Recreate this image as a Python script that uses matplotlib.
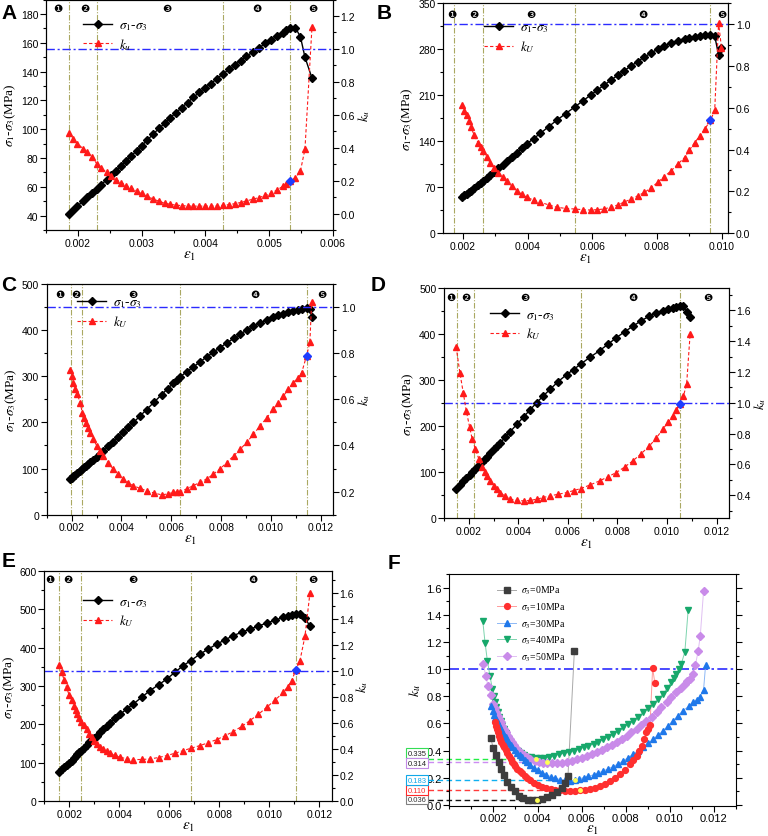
import matplotlib
matplotlib.use("Agg")
import matplotlib.pyplot as plt
import matplotlib.transforms as mtransforms
from matplotlib.ticker import MultipleLocator, FormatStrFormatter, FixedLocator

plt.rcParams['font.family'] = ['Liberation Sans', 'DejaVu Sans']
plt.rcParams['mathtext.fontset'] = 'stix'
plt.rcParams['font.size'] = 8

# ---------------- data: panel A (sigma3 = 0 MPa) ----------------
eps_a = [0.00186, 0.00193, 0.00199, 0.00208, 0.00215, 0.00222, 0.0023, 0.00237, 0.00245, 0.00252,
         0.0026, 0.00268, 0.00276, 0.00284, 0.00292, 0.003, 0.00309, 0.00318, 0.00327, 0.00336,
         0.00345, 0.00354, 0.00363, 0.00372, 0.00381, 0.0039, 0.00399, 0.00408, 0.00418, 0.00428,
         0.00437, 0.00446, 0.00455, 0.00464, 0.00474, 0.00484, 0.00494, 0.00503, 0.00512, 0.00521,
         0.00527, 0.00533, 0.00541, 0.00549, 0.00556, 0.00567]
dev_a = [41, 44, 46.5, 50, 53, 55.5, 58.5, 61.5, 65, 68,
         71, 74.5, 78, 81.5, 85, 88.5, 92.5, 96.5, 100.5, 104,
         108, 111.5, 115, 118.5, 122, 125.5, 128.5, 131.5, 135, 138.5,
         141.5, 144.5, 147.5, 150.5, 153.5, 156.5, 159.5, 162, 164.5, 167,
         169, 170.5, 170.5, 164, 150, 135.5]
ku_a = [0.49, 0.45, 0.425, 0.395, 0.372, 0.345, 0.3, 0.275, 0.25, 0.228,
        0.205, 0.188, 0.17, 0.155, 0.138, 0.122, 0.105, 0.088, 0.075, 0.063,
        0.056, 0.051, 0.048, 0.046, 0.045, 0.045, 0.045, 0.046, 0.047, 0.05,
        0.054, 0.06, 0.067, 0.076, 0.087, 0.097, 0.11, 0.124, 0.142, 0.165,
        0.18, 0.197, 0.217, 0.26, 0.39, 1.13]
stages_a = [0.00186, 0.0023, 0.00428, 0.00533]

# ---------------- panel B (10 MPa) ----------------
eps_b = [0.00198, 0.00205, 0.00212, 0.00218, 0.00224, 0.00236, 0.00248, 0.00256, 0.00264, 0.00274,
         0.00284, 0.00297, 0.0031, 0.00323, 0.00336, 0.00351, 0.00367, 0.00382, 0.00398, 0.00419,
         0.0044, 0.00465, 0.00491, 0.00518, 0.00546, 0.0057, 0.00595, 0.00615, 0.00636, 0.00657,
         0.00678, 0.00698, 0.00719, 0.0074, 0.00761, 0.00782, 0.00802, 0.00822, 0.00843, 0.00864,
         0.00885, 0.009, 0.00916, 0.00932, 0.00947, 0.00965, 0.00978, 0.0099, 0.00999]
dev_b = [55, 57.5, 60, 62.5, 65, 69, 73, 76.5, 80, 84,
         88, 93.5, 99, 104.5, 110, 116, 122, 129, 136, 144,
         152, 162, 172, 182, 192, 201, 210, 217.5, 225, 232.5,
         240, 247, 254, 261, 268, 274, 280, 284.5, 289, 292.5,
         296, 297.5, 299, 300, 301, 301, 300, 271, 282]
ku_b = [0.611, 0.585, 0.563, 0.535, 0.508, 0.468, 0.43, 0.412, 0.394, 0.366,
        0.338, 0.313, 0.29, 0.27, 0.25, 0.226, 0.203, 0.187, 0.171, 0.159,
        0.148, 0.136, 0.124, 0.119, 0.116, 0.113, 0.111, 0.113, 0.116, 0.125,
        0.135, 0.149, 0.163, 0.179, 0.195, 0.218, 0.243, 0.27, 0.298, 0.33,
        0.362, 0.397, 0.433, 0.465, 0.497, 0.54, 0.587, 1.005, 0.886]
stages_b = [0.00173, 0.00263, 0.00548, 0.00965]

# ---------------- panel C (30 MPa) ----------------
eps_c = [0.00194, 0.00201, 0.00207, 0.00215, 0.00223, 0.00234, 0.00243, 0.00251, 0.00258, 0.00266,
         0.00274, 0.00287, 0.00301, 0.00314, 0.00327, 0.00347, 0.00367, 0.00387, 0.00408, 0.00428,
         0.00448, 0.00474, 0.00501, 0.00531, 0.00561, 0.00585, 0.00608, 0.00622, 0.00636, 0.00662,
         0.00688, 0.00715, 0.00742, 0.00768, 0.00795, 0.00822, 0.0085, 0.00876, 0.00902, 0.00929,
         0.00956, 0.00983, 0.01009, 0.01029, 0.01049, 0.0107, 0.0109, 0.01107, 0.01123, 0.01143,
         0.01156, 0.01163]
dev_c = [77, 80, 83, 86.5, 90, 95, 99, 103, 106, 110,
         113.5, 119.5, 125.5, 131.5, 138, 148, 157.5, 167.5, 178.5, 189,
         200, 213.5, 228, 244, 260, 273, 285, 292, 299, 310,
         320, 331, 342, 352, 362, 372, 382, 391, 400, 408,
         415, 422, 428, 432, 436, 439.5, 442.5, 444.5, 446, 447,
         446, 429]
ku_c = [0.729, 0.70, 0.672, 0.645, 0.622, 0.586, 0.542, 0.52, 0.499, 0.477,
        0.456, 0.426, 0.399, 0.375, 0.353, 0.324, 0.298, 0.275, 0.255, 0.239,
        0.226, 0.214, 0.204, 0.194, 0.186, 0.19, 0.197, 0.198, 0.2, 0.212,
        0.226, 0.24, 0.255, 0.275, 0.298, 0.325, 0.355, 0.383, 0.413, 0.448,
        0.485, 0.52, 0.557, 0.585, 0.614, 0.643, 0.672, 0.693, 0.715, 0.79,
        0.847, 1.024]
stages_c = [0.00196, 0.00243, 0.00636, 0.01143]

# ---------------- panel D (40 MPa) ----------------
eps_d = [0.00149, 0.00164, 0.00178, 0.0019, 0.00203, 0.00214, 0.00227, 0.0024, 0.00254, 0.00264,
         0.00274, 0.00287, 0.00301, 0.00314, 0.00327, 0.00347, 0.00367, 0.00394, 0.00421, 0.00448,
         0.00474, 0.00501, 0.00528, 0.00561, 0.00595, 0.00623, 0.00652, 0.0069, 0.00728, 0.00762,
         0.00795, 0.00829, 0.00862, 0.00896, 0.00929, 0.00956, 0.00983, 0.01003, 0.01023, 0.01038,
         0.01053, 0.01066, 0.01079, 0.01093]
dev_d = [64, 72.5, 80, 87, 94, 100, 107.5, 115, 122.5, 128,
         134, 142, 150, 157.5, 164, 176, 188, 204, 220, 236,
         251, 266, 280, 297, 312, 323, 335, 350, 364, 378,
         392, 405, 417, 429, 439, 446, 451, 454, 456.5, 458,
         460, 461, 448, 436]
ku_d = [1.362, 1.196, 1.062, 0.947, 0.845, 0.763, 0.698, 0.638, 0.58, 0.552,
        0.525, 0.49, 0.46, 0.437, 0.417, 0.393, 0.374, 0.366, 0.363, 0.366,
        0.374, 0.385, 0.396, 0.406, 0.417, 0.43, 0.443, 0.467, 0.493, 0.52,
        0.547, 0.583, 0.623, 0.67, 0.72, 0.77, 0.828, 0.872, 0.915, 0.955,
        0.995, 1.044, 1.12, 1.444]
stages_d = [0.00153, 0.0022, 0.00652, 0.01053]

# ---------------- panel E (50 MPa) ----------------
eps_e = [0.0016, 0.0017, 0.00179, 0.00189, 0.00199, 0.00209, 0.00219, 0.00226, 0.00232, 0.00239,
         0.00245, 0.00257, 0.00269, 0.00279, 0.00289, 0.00299, 0.00309, 0.00322, 0.00336, 0.00349,
         0.00363, 0.00383, 0.00403, 0.0043, 0.00456, 0.0049, 0.00523, 0.00557, 0.0059, 0.00623,
         0.00656, 0.00686, 0.00723, 0.00757, 0.0079, 0.00823, 0.00856, 0.0089, 0.00923, 0.00957,
         0.0099, 0.01024, 0.01057, 0.01074, 0.0109, 0.01107, 0.01123, 0.01143, 0.01163]
dev_e = [77, 83, 88.5, 93.5, 99, 106, 113.5, 118.5, 123, 128,
         132, 139.5, 147, 153.5, 159.5, 165.5, 171, 179.5, 188.5, 197,
         204.5, 215.5, 226, 240.5, 253, 271, 288, 303, 318, 336,
         353, 366, 383, 396.5, 409, 420, 431, 440, 448, 456,
         464, 471.5, 478.5, 482, 485, 487, 487, 478, 455]
ku_e = [1.05, 0.99, 0.932, 0.875, 0.817, 0.775, 0.735, 0.70, 0.671, 0.64,
        0.612, 0.585, 0.556, 0.52, 0.49, 0.463, 0.44, 0.42, 0.402, 0.385,
        0.369, 0.352, 0.338, 0.327, 0.32, 0.321, 0.325, 0.336, 0.351, 0.369,
        0.389, 0.407, 0.428, 0.45, 0.474, 0.503, 0.535, 0.575, 0.62, 0.668,
        0.722, 0.778, 0.837, 0.88, 0.927, 1.011, 1.08, 1.267, 1.6]
stages_e = [0.0016, 0.00245, 0.00686, 0.01107]

# ---------------- panel F (k_u for all confining pressures) ----------------
f0_eps = [0.00188, 0.002, 0.00212, 0.00226, 0.00236, 0.00248, 0.00263, 0.00278, 0.00296, 0.00316,
          0.00335, 0.00356, 0.00377, 0.00398, 0.00421, 0.00443, 0.00466, 0.00488, 0.00511, 0.00526,
          0.00538, 0.00567]
f0_k = [0.49, 0.416, 0.37, 0.318, 0.266, 0.218, 0.172, 0.136, 0.1, 0.067,
        0.048, 0.038, 0.035, 0.037, 0.043, 0.056, 0.073, 0.095, 0.125, 0.16,
        0.21, 1.13]
f10_eps = [0.00207, 0.00211, 0.00215, 0.0022, 0.00226, 0.00231, 0.00236, 0.00242, 0.00248, 0.00255,
           0.00263, 0.0027, 0.00278, 0.00285, 0.00293, 0.003, 0.00308, 0.0032, 0.00331, 0.00342,
           0.00353, 0.00368, 0.00383, 0.00402, 0.00421, 0.0044, 0.00459, 0.00481, 0.00504, 0.00526,
           0.00549, 0.00571, 0.00594, 0.00616, 0.00639, 0.00661, 0.00684, 0.00706, 0.00729, 0.00751,
           0.00774, 0.00797, 0.0082, 0.00835, 0.0085, 0.00861, 0.00872, 0.00883, 0.00894, 0.00902,
           0.0091, 0.00922, 0.00932]
f10_k = [0.608, 0.583, 0.559, 0.535, 0.51, 0.488, 0.466, 0.445, 0.424, 0.403,
         0.382, 0.36, 0.337, 0.318, 0.3, 0.284, 0.268, 0.25, 0.234, 0.217,
         0.202, 0.183, 0.165, 0.15, 0.135, 0.126, 0.118, 0.112, 0.108, 0.105,
         0.104, 0.106, 0.11, 0.113, 0.118, 0.128, 0.14, 0.157, 0.177, 0.2,
         0.227, 0.26, 0.3, 0.33, 0.362, 0.398, 0.436, 0.484, 0.534, 0.562,
         0.589, 1.007, 0.899]
f30_eps = [0.00191, 0.00197, 0.00203, 0.00209, 0.00215, 0.0022, 0.00226, 0.00233, 0.0024, 0.00248,
           0.00256, 0.00263, 0.00271, 0.00278, 0.00286, 0.00297, 0.00308, 0.0032, 0.00331, 0.00342,
           0.00353, 0.00368, 0.00383, 0.00402, 0.00421, 0.0044, 0.00459, 0.00481, 0.00504, 0.00526,
           0.00549, 0.00571, 0.0059, 0.00609, 0.00631, 0.00654, 0.00676, 0.00699, 0.00721, 0.00744,
           0.00766, 0.00789, 0.00811, 0.00834, 0.00857, 0.0088, 0.00902, 0.00925, 0.00947, 0.0097,
           0.00992, 0.01015, 0.01037, 0.0106, 0.01085, 0.01106, 0.01122, 0.01135, 0.01153, 0.01162]
f30_k = [0.727, 0.695, 0.665, 0.642, 0.62, 0.602, 0.584, 0.561, 0.539, 0.518,
         0.497, 0.478, 0.46, 0.442, 0.424, 0.403, 0.382, 0.366, 0.35, 0.331,
         0.313, 0.294, 0.276, 0.257, 0.239, 0.224, 0.209, 0.197, 0.187, 0.181,
         0.178, 0.183, 0.192, 0.202, 0.212, 0.222, 0.236, 0.251, 0.267, 0.283,
         0.303, 0.325, 0.349, 0.374, 0.399, 0.424, 0.454, 0.485, 0.515, 0.547,
         0.584, 0.621, 0.658, 0.695, 0.725, 0.756, 0.775, 0.793, 0.85, 1.027]
f40_eps = [0.00152, 0.00162, 0.00173, 0.00185, 0.00195, 0.00201, 0.00207, 0.00214, 0.00221, 0.00227,
           0.00233, 0.0024, 0.00248, 0.00255, 0.00263, 0.00272, 0.00281, 0.0029, 0.003, 0.00311,
           0.00323, 0.00338, 0.00353, 0.00372, 0.00391, 0.0041, 0.00428, 0.00451, 0.00474, 0.00496,
           0.00519, 0.00541, 0.00564, 0.00586, 0.00609, 0.00631, 0.00654, 0.00676, 0.00699, 0.00721,
           0.00744, 0.00766, 0.00789, 0.00811, 0.00834, 0.00857, 0.0088, 0.00902, 0.00925, 0.00947,
           0.0097, 0.00988, 0.01007, 0.01018, 0.0103, 0.01041, 0.01052, 0.01068, 0.01083]
f40_k = [1.352, 1.195, 1.057, 0.946, 0.855, 0.805, 0.756, 0.72, 0.682, 0.651,
         0.621, 0.59, 0.559, 0.528, 0.498, 0.473, 0.448, 0.43, 0.411, 0.396,
         0.382, 0.369, 0.357, 0.35, 0.347, 0.347, 0.348, 0.354, 0.362, 0.372,
         0.382, 0.39, 0.399, 0.411, 0.424, 0.436, 0.448, 0.466, 0.485, 0.503,
         0.522, 0.546, 0.571, 0.596, 0.621, 0.651, 0.682, 0.713, 0.744, 0.781,
         0.818, 0.86, 0.904, 0.935, 0.966, 1.0, 1.039, 1.126, 1.433]
f50_eps = [0.00155, 0.00165, 0.00176, 0.00188, 0.002, 0.00206, 0.00212, 0.00219, 0.00226, 0.00233,
           0.0024, 0.00248, 0.00256, 0.00265, 0.00275, 0.00284, 0.00293, 0.00304, 0.00316, 0.00327,
           0.00338, 0.00353, 0.00368, 0.00387, 0.00406, 0.00425, 0.00443, 0.00466, 0.00489, 0.00511,
           0.00534, 0.00556, 0.00579, 0.00601, 0.00624, 0.00646, 0.00669, 0.00691, 0.00714, 0.00736,
           0.00759, 0.00781, 0.00804, 0.00826, 0.00849, 0.00871, 0.00894, 0.00917, 0.0094, 0.00962,
           0.00985, 0.01007, 0.0103, 0.01049, 0.01068, 0.01079, 0.0109, 0.01103, 0.01116, 0.01128,
           0.01138, 0.01153]
f50_k = [1.039, 0.948, 0.874, 0.813, 0.744, 0.713, 0.682, 0.657, 0.633, 0.608,
         0.584, 0.559, 0.534, 0.51, 0.485, 0.463, 0.441, 0.42, 0.399, 0.383,
         0.367, 0.352, 0.337, 0.327, 0.318, 0.312, 0.308, 0.308, 0.308, 0.312,
         0.318, 0.327, 0.337, 0.349, 0.362, 0.377, 0.392, 0.408, 0.424, 0.445,
         0.466, 0.488, 0.51, 0.535, 0.559, 0.59, 0.621, 0.651, 0.682, 0.719,
         0.756, 0.795, 0.835, 0.864, 0.892, 0.91, 0.929, 0.965, 1.03, 1.13,
         1.244, 1.576]
sigma3 = [0, 10, 30, 40, 50]
kmin_val = [0.036, 0.110, 0.183, 0.335, 0.314]
kmin_eps = [0.00398, 0.00594, 0.00571, 0.00391, 0.00443]

# ---------------- styling ----------------
OLIVE = '#aaa862'
BLUE = '#2b2bff'
SERIF = ['Liberation Serif', 'DejaVu Serif']
CIRCLED = ['\u2776', '\u2777', '\u2778', '\u2779', '\u277a']
S13 = r'$\sigma_{\mathit{1}}$-$\sigma_{\mathit{3}}$'
EPS1 = r'$\varepsilon_{\mathit{1}}$'

fig = plt.figure(figsize=(7.68, 8.37), dpi=100)


def px(l, r, t, b):
    return [l / 768, 1 - b / 837, (r - l) / 768, (b - t) / 837]


def style_axis(ax):
    ax.tick_params(which='both', direction='out', top=False, labelsize=7.5, width=0.8)
    ax.tick_params(which='major', length=4, pad=1.5)
    ax.tick_params(which='minor', length=2)
    for s in ax.spines.values():
        s.set_linewidth(0.8)


def stress_panel(rect, eps, dev, ku, stages, marks, mark_y, xlim, xticks, xminor,
                 ylim, ystep, yminor, klim, kticks, k_name, leg_xy, right_label=True):
    ax = fig.add_axes(rect)
    ax2 = ax.twinx()
    for v in stages:
        ax.axvline(v, color=OLIVE, lw=0.8, ls=(0, (5, 1.5, 1, 1.5)), zorder=1)
    ax2.axhline(1.0, color=BLUE, lw=1.0, ls=(0, (6, 2, 1.5, 2)), zorder=1)
    l1, = ax.plot(eps, dev, color='black', lw=1.0, marker='D', ms=3.7, zorder=3)
    l2, = ax2.plot(eps, ku, color='#ff1a1a', lw=0.8, ls=(0, (3, 2)), marker='^', ms=4.5, zorder=3)
    i = eps.index(stages[-1])
    ax2.plot([eps[i]], [ku[i]], marker='D', color='#1f3dff', ms=4, ls='none', zorder=4)

    ax.set_xlim(*xlim)
    ax.set_ylim(*ylim)
    ax2.set_ylim(*klim)
    ax.xaxis.set_major_locator(FixedLocator(xticks))
    ax.xaxis.set_minor_locator(MultipleLocator(xminor))
    ax.xaxis.set_major_formatter(FormatStrFormatter('%.3f'))
    ax.yaxis.set_major_locator(MultipleLocator(ystep))
    ax.yaxis.set_minor_locator(MultipleLocator(yminor))
    ax2.yaxis.set_major_locator(FixedLocator(kticks))
    ax2.yaxis.set_minor_locator(MultipleLocator(0.1))
    ax2.yaxis.set_major_formatter(FormatStrFormatter('%.1f'))
    style_axis(ax)
    style_axis(ax2)

    ax.set_xlabel(EPS1, fontsize=11, labelpad=0)
    ax.set_ylabel(S13 + '(MPa)', fontsize=9.5, family=SERIF, labelpad=2)
    if right_label:
        ax2.set_ylabel(r'$k_u$', fontsize=9.5, labelpad=0.5)

    tr = mtransforms.blended_transform_factory(ax.transData, ax.transAxes)
    for x, c in zip(marks, CIRCLED):
        ax.text(x, mark_y, c, transform=tr, ha='center', va='center',
                fontsize=7.5, family=['DejaVu Sans'])

    ax2.legend([l1, l2], [S13, k_name], loc='upper left', bbox_to_anchor=leg_xy,
               frameon=False, borderaxespad=0, borderpad=0, handlelength=2.2,
               handletextpad=0.5, labelspacing=0.3, prop={'family': SERIF, 'size': 9.5})
    return ax


stress_panel(px(46, 333, 0.5, 231), eps_a, dev_a, ku_a, stages_a,
             [0.00169, 0.00211, 0.0034, 0.0048, 0.00568], 0.965,
             (0.0015, 0.006), [0.002, 0.003, 0.004, 0.005, 0.006], 0.0005,
             (30, 190), 20, 10, (-0.1, 1.3), [0, 0.2, 0.4, 0.6, 0.8, 1.0, 1.2],
             r'$k_u$', (0.129, 0.915))

stress_panel(px(443.3, 728.3, 4, 234.3), eps_b, dev_b, ku_b, stages_b,
             [0.00167, 0.00233, 0.00409, 0.00755, 0.00999], 0.952,
             (0.0014, 0.0102), [0.002, 0.004, 0.006, 0.008, 0.010], 0.001,
             (0, 350), 70, 35, (0, 1.1), [0, 0.2, 0.4, 0.6, 0.8, 1.0],
             r'$k_U$', (0.143, 0.92), right_label=False)

stress_panel(px(46.7, 333.3, 285, 515.7), eps_c, dev_c, ku_c, stages_c,
             [0.00151, 0.00218, 0.00445, 0.00936, 0.01203], 0.957,
             (0.001, 0.0125), [0.002, 0.004, 0.006, 0.008, 0.010, 0.012], 0.001,
             (0, 500), 100, 50, (0.1, 1.1), [0.2, 0.4, 0.6, 0.8, 1.0],
             r'$k_U$', (0.106, 0.947))

stress_panel(px(444, 729, 289, 519.3), eps_d, dev_d, ku_d, stages_d,
             [0.00127, 0.00187, 0.00428, 0.00862, 0.01163], 0.96,
             (0.001, 0.0125), [0.002, 0.004, 0.006, 0.008, 0.010, 0.012], 0.001,
             (0, 500), 100, 50, (0.25, 1.745), [0.4, 0.6, 0.8, 1.0, 1.2, 1.4, 1.6],
             r'$k_U$', (0.163, 0.911))

stress_panel(px(44.3, 331.7, 571.7, 802.3), eps_e, dev_e, ku_e, stages_e,
             [0.00123, 0.00196, 0.00454, 0.00934, 0.01174], 0.964,
             (0.001, 0.0125), [0.002, 0.004, 0.006, 0.008, 0.010, 0.012], 0.001,
             (0, 600), 100, 50, (0, 1.77), [0, 0.2, 0.4, 0.6, 0.8, 1.0, 1.2, 1.4, 1.6],
             r'$k_U$', (0.135, 0.892))

# ---------------- panel F ----------------
axf = fig.add_axes(px(449.3, 736, 575, 806.7))
axf.axhline(1.0, color=BLUE, lw=1.2, ls=(0, (6, 2, 1.5, 2)), zorder=1)

f_series = {
    0: (f0_eps, f0_k, 's', '#3d3d3d', '#a9a9a9', 4.0),
    10: (f10_eps, f10_k, 'o', '#ff2f2f', '#ff9b9b', 4.2),
    30: (f30_eps, f30_k, '^', '#1f78ea', '#8db8f5', 4.6),
    40: (f40_eps, f40_k, 'v', '#17a86b', '#7dd4ae', 4.6),
    50: (f50_eps, f50_k, 'D', '#c98be9', '#e0c0f2', 3.8),
}
handles = {}
for s3 in [40, 50, 30, 10, 0]:
    x, y, m, c, lc, ms = f_series[s3]
    axf.plot(x, y, color=lc, lw=0.7, zorder=2)
    axf.plot(x, y, ls='none', marker=m, color=c, ms=ms, zorder=3)
    handles[s3] = axf.plot([], [], color=lc, lw=0.7, marker=m, mfc=c, mec=c, ms=ms)[0]

dash_col = ['#111111', '#ff3b3b', '#10b0f0', '#22ee44', '#cc8cf2']
box_edge = ['#808080', '#ff2a2a', '#11a8e8', '#33dd55', '#c28ae6']
box_text = ['#333333', '#ff2a2a', '#11a8e8', '#222222', '#222222']
box_shift = [0.006, 0.0, 0.0, 0.047, -0.006]
trf = mtransforms.blended_transform_factory(axf.transAxes, axf.transData)
for v, xe, dc, be, bt, sh in zip(kmin_val, kmin_eps, dash_col, box_edge, box_text, box_shift):
    axf.plot([-0.00096, xe], [v, v], ls=(0, (4, 2.5)), color=dc, lw=1.0, clip_on=False, zorder=2)
    axf.text(-0.113, v + sh, '%.3f' % v, transform=trf, ha='center', va='center',
             fontsize=5.5, color=bt, clip_on=False,
             bbox=dict(boxstyle='square,pad=0.2', fc='white', ec=be, lw=0.8))
axf.plot(kmin_eps, kmin_val, ls='none', marker='o', color='#ffff55', ms=3.5, mec='none', zorder=6)

axf.set_xlim(0, 0.013)
axf.set_ylim(-0.005, 1.7)
axf.xaxis.set_major_locator(FixedLocator([0.002, 0.004, 0.006, 0.008, 0.010, 0.012]))
axf.xaxis.set_minor_locator(MultipleLocator(0.001))
axf.xaxis.set_major_formatter(FormatStrFormatter('%.3f'))
axf.yaxis.set_major_locator(MultipleLocator(0.2))
axf.yaxis.set_minor_locator(MultipleLocator(0.1))
axf.yaxis.set_major_formatter(FormatStrFormatter('%.1f'))
style_axis(axf)
axf.tick_params(axis='y', which='both', right=True)
axf.tick_params(axis='both', which='major', labelsize=8)
axf.set_xlabel(EPS1, fontsize=11, labelpad=-1)
axf.set_ylabel(r'$k_u$', fontsize=10, labelpad=2)
axf.legend([handles[s] for s in sigma3],
           [r'$\sigma_{\mathit{3}}$=%dMPa' % s for s in sigma3],
           loc='upper left', bbox_to_anchor=(0.166, 0.957), frameon=False,
           borderaxespad=0, borderpad=0, handlelength=2.0, handletextpad=0.5,
           labelspacing=0.42, prop={'family': SERIF, 'size': 7})

# panel letters
for letter, x, y in [('A', 1, 4), ('B', 377, 4), ('C', 1, 276), ('D', 371, 276),
                     ('E', 2, 552), ('F', 388, 554)]:
    fig.text(x / 768, 1 - y / 837, letter, fontsize=15, fontweight='bold', va='top', ha='left')

fig.savefig('out.png', dpi=100)
